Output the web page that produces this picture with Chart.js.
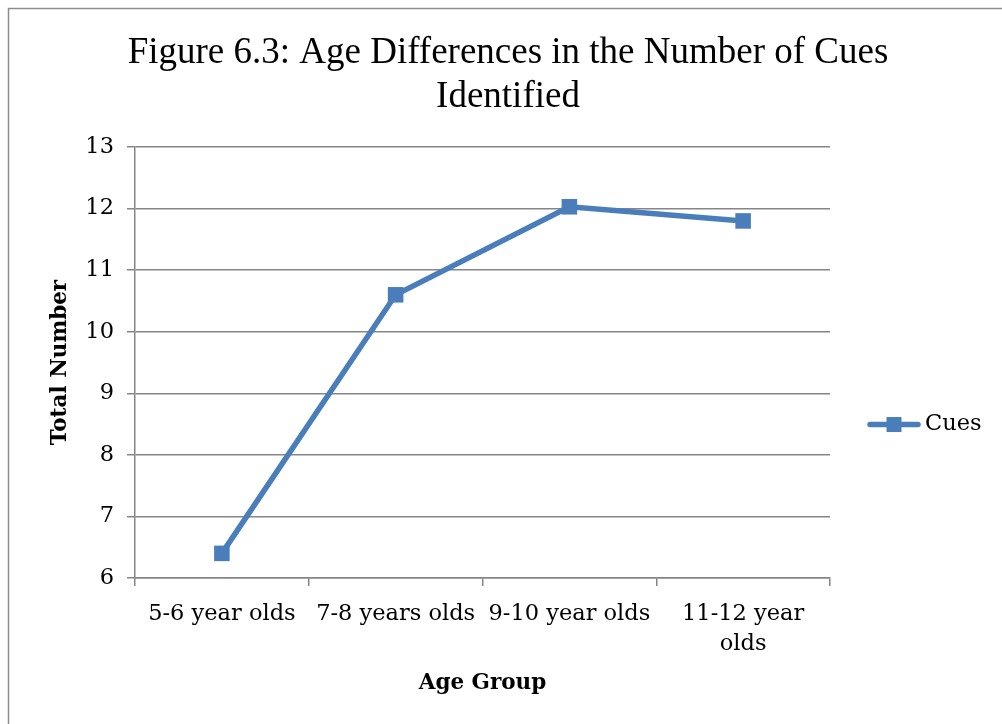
<!DOCTYPE html>
<html>
<head>
<meta charset="utf-8">
<style>
  html, body { margin: 0; padding: 0; background: #ffffff; }
  canvas { display: block; }
</style>
<script src="https://cdn.jsdelivr.net/npm/chart.js@4.4.1/dist/chart.umd.min.js"></script>
</head>
<body>
<canvas id="chart" width="1002" height="724"></canvas>
<script>
// Age groups on the category axis (last one wraps onto two lines)
const ageGroups = ['5-6 year olds', '7-8 years olds', '9-10 year olds', ['11-12 year', 'olds']];
// Total number of cues identified per age group
const cues = [6.4, 10.6, 12.03, 11.8];
// Value axis range
const yMin = 6;
const yMax = 13;
const yStep = 1;

const seriesColor = '#4A7EBB';
const gridColor = '#868686';
const tickFont = { family: 'DejaVu Serif', size: 22.5, lineHeight: 1.33 };
const axisTitleFont = { family: 'DejaVu Serif', size: 21.5, weight: 'bold', lineHeight: 1.2 };

// Frame line around the chart and the series key on the right
const framePlugin = {
  id: 'frame',
  beforeDraw(chart) {
    const ctx = chart.ctx;
    ctx.save();
    ctx.strokeStyle = '#8c8c8c';
    ctx.lineWidth = 1.5;
    ctx.beginPath();
    ctx.moveTo(8.5, chart.height + 2);
    ctx.lineTo(8.5, 8.5);
    ctx.lineTo(chart.width + 2, 8.5);
    ctx.stroke();
    ctx.restore();
  },
  afterDraw(chart) {
    const ctx = chart.ctx;
    const area = chart.chartArea;
    const ds = chart.data.datasets[0];
    const y = (area.top + area.bottom) / 2 + 62;
    const x0 = area.right + 40;
    ctx.save();
    ctx.strokeStyle = ds.borderColor;
    ctx.lineWidth = ds.borderWidth;
    ctx.lineCap = 'round';
    ctx.beginPath();
    ctx.moveTo(x0, y);
    ctx.lineTo(x0 + 48, y);
    ctx.stroke();
    ctx.fillStyle = ds.pointBackgroundColor;
    ctx.fillRect(x0 + 24 - 7.5, y - 7.5, 15, 15);
    ctx.fillStyle = '#000000';
    ctx.font = `${tickFont.size}px "${tickFont.family}"`;
    ctx.textBaseline = 'middle';
    ctx.textAlign = 'left';
    ctx.fillText(ds.label, x0 + 55, y);
    ctx.restore();
  }
};

new Chart(document.getElementById('chart'), {
  type: 'line',
  data: {
    labels: ageGroups,
    datasets: [{
      label: 'Cues',
      data: cues,
      borderColor: seriesColor,
      backgroundColor: seriesColor,
      borderWidth: 5.5,
      pointStyle: 'rect',
      pointRadius: 11,
      pointHoverRadius: 11,
      pointBackgroundColor: seriesColor,
      pointBorderColor: seriesColor,
      pointBorderWidth: 0,
      tension: 0
    }]
  },
  options: {
    responsive: false,
    animation: false,
    events: [],
    layout: { padding: { left: 14, right: 0, top: 0, bottom: 0 } },
    plugins: {
      legend: { display: false },
      tooltip: { enabled: false },
      title: {
        display: true,
        text: ['Figure 6.3: Age Differences in the Number of Cues', 'Identified'],
        color: '#000000',
        font: { family: 'Liberation Serif', size: 37, weight: 'normal', lineHeight: 1.19 },
        padding: { top: 31, bottom: 28 }
      }
    },
    scales: {
      x: {
        type: 'category',
        offset: true,
        grid: {
          offset: true,
          drawOnChartArea: false,
          drawTicks: true,
          tickLength: 8,
          color: gridColor,
          lineWidth: 1.5
        },
        border: { display: true, color: gridColor, width: 1.5 },
        ticks: {
          color: '#000000',
          font: tickFont,
          padding: 13,
          maxRotation: 0,
          autoSkip: false
        },
        title: {
          display: true,
          text: 'Age Group',
          color: '#000000',
          font: axisTitleFont,
          padding: { top: 0, bottom: 28 }
        },
        afterFit(scale) { scale.height = 146; }
      },
      y: {
        min: yMin,
        max: yMax,
        ticks: {
          stepSize: yStep,
          color: '#000000',
          font: tickFont,
          padding: 13
        },
        grid: {
          color: gridColor,
          lineWidth: 1.5,
          drawTicks: true,
          tickLength: 8
        },
        border: { display: true, color: gridColor, width: 1.5 },
        title: {
          display: true,
          text: 'Total Number',
          color: '#000000',
          font: axisTitleFont,
          padding: { top: 34, bottom: 0 }
        },
        afterFit(scale) { scale.width = 121; }
      },
      keySpace: {
        type: 'linear',
        position: 'right',
        display: true,
        grid: { display: false },
        border: { display: false },
        ticks: { display: false },
        afterFit(scale) { scale.width = 172; }
      }
    }
  },
  plugins: [framePlugin]
});
</script>
</body>
</html>
